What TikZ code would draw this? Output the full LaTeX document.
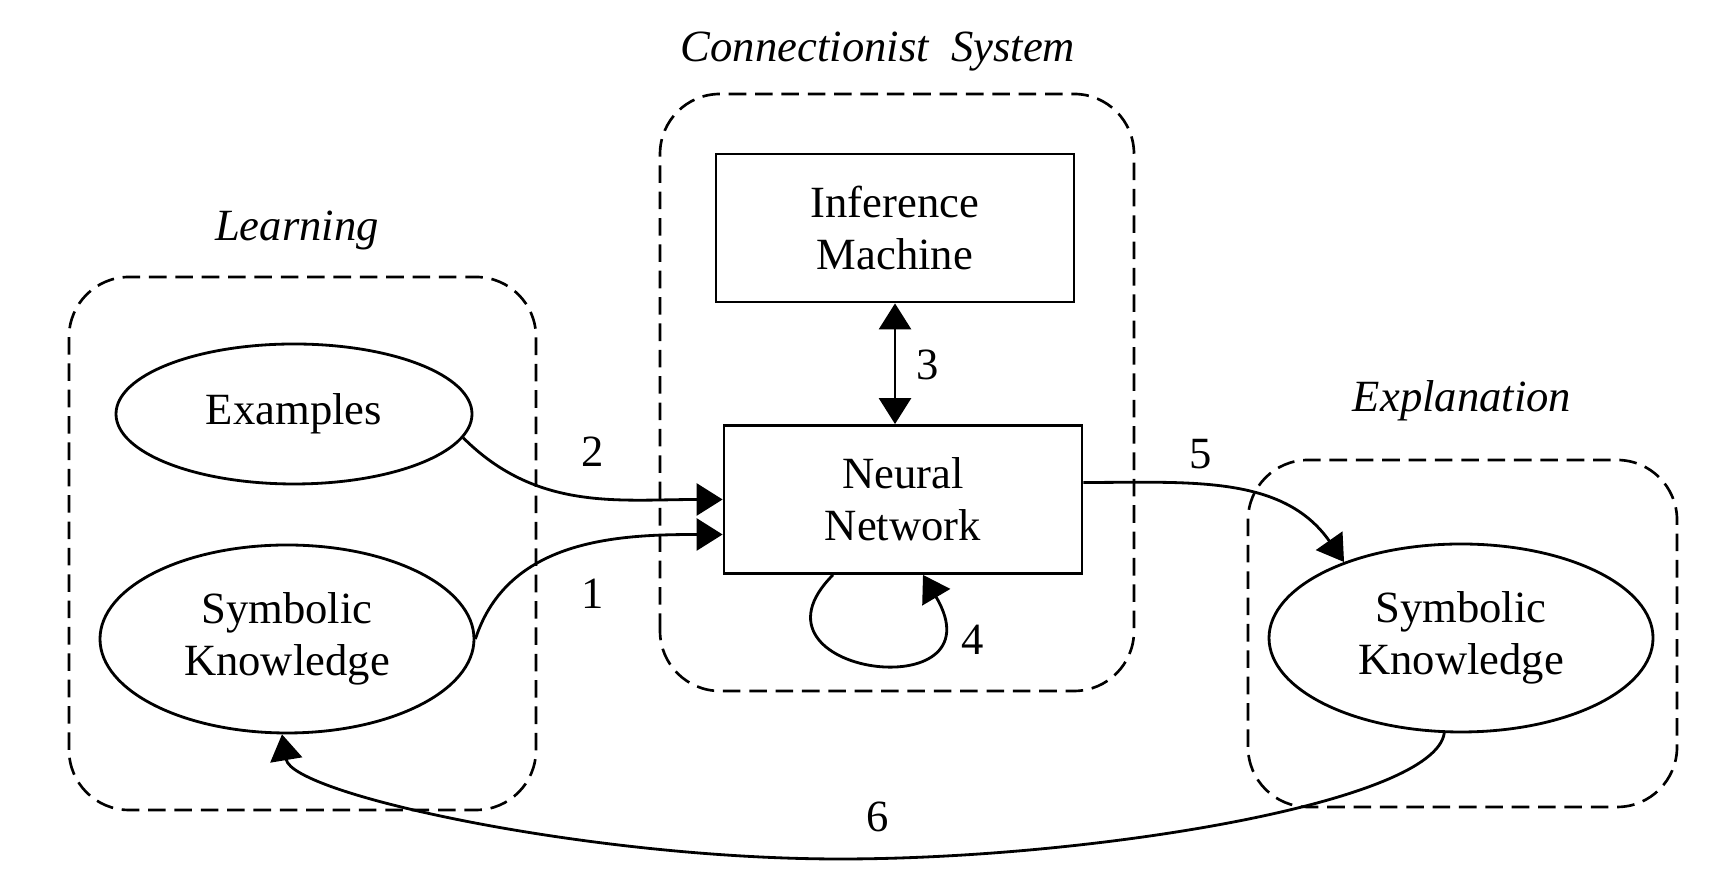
\documentclass[tikz,border=0pt]{standalone}
\usepackage{fontspec}
\setmainfont{Liberation Serif}
\usetikzlibrary{shapes.geometric,arrows.meta}

\begin{document}
\begin{tikzpicture}[font=\fontsize{12.7}{14.8}\selectfont,
  >={Triangle[length=0.26cm,width=0.32cm]},
  box/.style={draw, line width=0.8pt, minimum width=3.58cm, minimum height=1.48cm, align=center},
  oval/.style={draw, ellipse, line width=0.8pt, inner sep=0pt, align=center},
  group/.style={line width=0.75pt, dash pattern=on 5pt off 2.5pt, rounded corners=0.6cm},
  ttl/.style={font=\fontsize{12.7}{14.8}\selectfont\itshape},
  link/.style={line width=0.8pt}]
\useasboundingbox (0,0) rectangle (17.36,8.70);
\draw[group] (0.69,0.60) rectangle (5.36,5.93);
\draw[group] (6.60,1.79) rectangle (11.34,7.76);
\draw[group] (12.48,0.63) rectangle (16.77,4.10);
\node[ttl] (learn) at (2.97,6.40) {Learning};
\node[ttl] (conn) at (8.78,8.18) {Connectionist\ \ System};
\node[ttl] (expl) at (14.62,4.69) {Explanation};
\node[box] (inf) at (8.95,6.42) {Inference\\Machine};
\node[box] (nn) at (9.03,3.705) {Neural\\Network};
\node[oval, minimum width=3.56cm, minimum height=1.40cm] (ex) at (2.94,4.56) {Examples};
\node[oval, minimum width=3.74cm, minimum height=1.88cm] (skl) at (2.87,2.31) {Symbolic\\Knowledge};
\node[oval, minimum width=3.84cm, minimum height=1.88cm] (skr) at (14.61,2.32) {Symbolic\\Knowledge};
\coordinate (low) at (8.4,0.11);
\draw[link,->] (ex.-8) to[out=-45,in=180] (nn.west);
\draw[link,->] (skl.east) to[out=72,in=180] ([yshift=-0.35cm]nn.west);
\draw[link,<->] (inf.south) -- (inf.south |- nn.north);
\draw[link,->] ([xshift=-0.7cm]nn.south) .. controls +(-1.0,-1.0) and +(0.8,-1.35) .. ([xshift=0.2cm]nn.south);
\draw[link,->] ([yshift=0.17cm]nn.east) to[out=0,in=125] (skr.147);
\draw[link,->] (skr.-100) .. controls +(-0.1,-0.7) and +(2.5,0) .. (low) .. controls +(-2.5,0) and +(0.1,-0.6) .. (skl.-93);
\node (n1) at (5.93,2.76) {1};
\node (n2) at (5.93,4.18) {2};
\node (n3) at (9.28,5.05) {3};
\node (n4) at (9.73,2.30) {4};
\node (n5) at (12.01,4.16) {5};
\node (n6) at (8.78,0.53) {6};
\end{tikzpicture}
\end{document}
